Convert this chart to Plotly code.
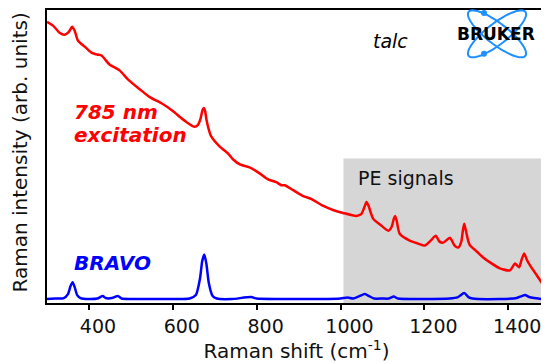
import math
import plotly.graph_objects as go

# ---- data ----
red_x = [300, 315, 330, 342, 352, 360, 366, 374, 390, 406, 420, 430, 449, 473, 493, 521, 545, 576, 600, 617,
         632, 652, 660, 666, 671, 674, 677, 680, 686, 692, 712, 732, 744, 760, 783, 807, 827, 847, 859, 867,
         887, 911, 931, 959, 982, 1006, 1038, 1050, 1057, 1062, 1067, 1078, 1095, 1114, 1122, 1127, 1130, 1134,
         1141, 1165, 1185, 1201, 1215, 1227, 1236, 1245, 1261, 1272, 1281, 1288, 1292, 1295, 1299, 1305, 1309,
         1325, 1340, 1360, 1380, 1404, 1416, 1421, 1426, 1432, 1438, 1444, 1452, 1468, 1484, 1490]
red_y = [284, 280, 273, 271, 274, 279, 275, 265, 259, 253, 251, 250, 241, 235, 226, 216, 208, 201, 194, 188,
         183, 178, 180, 186, 195, 197, 194, 186, 175, 168, 158, 151, 145, 140, 137, 131, 125, 122, 119, 119,
         114, 108, 105, 98, 94, 91, 88, 90, 97, 102, 98, 85, 79, 73, 77, 85, 88, 83,
         70, 63, 60, 58, 63, 68, 62, 61, 66, 58, 56, 62, 74, 80, 73, 62, 58,
         52, 46, 40, 35, 33, 40, 38, 36, 44, 50, 44, 38, 28, 18, 16]

blue_x = [300, 320, 340, 350, 356, 361, 366, 372, 380, 400, 420, 433, 440, 455, 469, 478, 500, 550, 600, 640,
          655, 665, 670, 675, 680, 686, 695, 705, 740, 787, 800, 850, 900, 950, 1000, 1017, 1030, 1045, 1058,
          1068, 1080, 1100, 1115, 1127, 1137, 1200, 1260, 1280, 1295, 1305, 1315, 1380, 1420, 1432, 1440, 1450,
          1462, 1480, 1490]
blue_y = [4, 4.5, 5, 9, 17, 21, 16, 8, 5, 4, 4.5, 7, 5, 5, 7, 4.5, 4, 4, 4, 4.5,
          8, 25, 42, 49, 40, 20, 7, 4.5, 4, 6, 4.5, 4, 4, 4, 4.5, 5.5, 4.5, 7, 9,
          7, 4.5, 4.5, 4.5, 6.5, 4.5, 4, 4.5, 6, 10, 6, 4.5, 4, 5, 7, 8, 6,
          5, 4, 4]

x_ticks = [400, 600, 800, 1000, 1200, 1400]
pe_region = [1007, 1490]
pe_top = 146

FONT = "DejaVu Sans"

fig = go.Figure()
fig.add_trace(go.Scatter(x=red_x, y=red_y, mode="lines",
                         line=dict(color="#ff0000", width=2.5, shape="spline", smoothing=0.6),
                         showlegend=False, hoverinfo="skip"))
fig.add_trace(go.Scatter(x=blue_x, y=blue_y, mode="lines",
                         line=dict(color="#0000ff", width=2.5, shape="spline", smoothing=0.6),
                         showlegend=False, hoverinfo="skip"))

# PE signals region
fig.add_shape(type="rect", x0=pe_region[0], x1=pe_region[1], y0=0, y1=pe_top,
              xref="x", yref="y", fillcolor="#d6d6d6", line_width=0, layer="below")

# ---- geometry: page body has an 8px margin, so the figure is offset ----
OFF = 8
W, H = 549 - OFF, 363 - OFF
L, R, T, B = 47 - OFF, 3, 0, 60
pw, ph = W - L - R, H - T - B


def px(xp):  # reference pixel -> paper
    return (xp - OFF - L) / pw


def py(yp):
    return (H - B - (yp - OFF)) / ph


# Bruker logo: two crossed orbits + two dots + text
cx, cy, a, b = 497, 32, 36, 10.5
for ang in (38, -38):
    th = math.radians(ang)
    pts = []
    for k in range(73):
        t = 2 * math.pi * k / 72
        ex, ey = a * math.cos(t), b * math.sin(t)
        X = cx + ex * math.cos(th) - ey * math.sin(th)
        Y = cy + ex * math.sin(th) + ey * math.cos(th)
        pts.append((px(X), py(Y)))
    path = "M " + " L ".join(f"{u:.5f},{v:.5f}" for u, v in pts) + " Z"
    fig.add_shape(type="path", path=path, xref="paper", yref="paper",
                  line=dict(color="#1e90ff", width=2))
for (dx, dy) in [(484, 11), (484, 52)]:
    fig.add_shape(type="circle", xref="paper", yref="paper",
                  x0=px(dx - 3), x1=px(dx + 3), y0=py(dy + 3), y1=py(dy - 3),
                  fillcolor="#1e90ff", line_width=0)

annos = [
    dict(text="<b>BRUKER</b>", x=px(496), y=py(32), xref="paper", yref="paper",
         font=dict(family=FONT, size=17, color="black"), xanchor="center", yanchor="middle"),
    dict(text="<i>talc</i>", x=1120, y=265, font=dict(family=FONT, size=19, color="black"),
         xanchor="center", yanchor="middle"),
    dict(text="<b><i>785 nm</i></b>", x=359, y=193, font=dict(family=FONT, size=20, color="#ff0000"),
         xanchor="left", yanchor="middle"),
    dict(text="<b><i>excitation</i></b>", x=359, y=170, font=dict(family=FONT, size=20, color="#ff0000"),
         xanchor="left", yanchor="middle"),
    dict(text="<b><i>BRAVO</i></b>", x=359, y=40, font=dict(family=FONT, size=20, color="#0000ff"),
         xanchor="left", yanchor="middle"),
    dict(text="PE signals", x=1038, y=126, font=dict(family=FONT, size=19, color="#111111"),
         xanchor="left", yanchor="middle"),
    dict(text="Raman intensity (arb. units)", x=0, y=0.5, xref="paper", yref="paper",
         textangle=-90, xanchor="right", yanchor="middle", xshift=-15, yshift=4,
         borderpad=0, font=dict(family=FONT, size=20, color="#111111")),
]
for an in annos:
    an.setdefault("showarrow", False)
    fig.add_annotation(**an)

fig.update_layout(
    width=W, height=H,
    margin=dict(l=L, r=R, t=T, b=B, pad=0),
    paper_bgcolor="white", plot_bgcolor="white",
    font=dict(family=FONT, size=19, color="#111111"),
    xaxis=dict(range=[300, 1490], tickvals=x_ticks, ticks="outside", ticklen=5, tickwidth=2,
               tickcolor="black", showline=True, linecolor="black", linewidth=2, mirror=True,
               showgrid=False, zeroline=False, tickfont=dict(size=19), ticklabelshift=9,
               title=dict(text="Raman shift (cm<sup>-1</sup>)", font=dict(size=20), standoff=4)),
    yaxis=dict(range=[0, 296], showticklabels=False, ticks="", showline=True, linecolor="black",
               linewidth=2, mirror=True, showgrid=False, zeroline=False),
)

fig.write_html("out.html")
